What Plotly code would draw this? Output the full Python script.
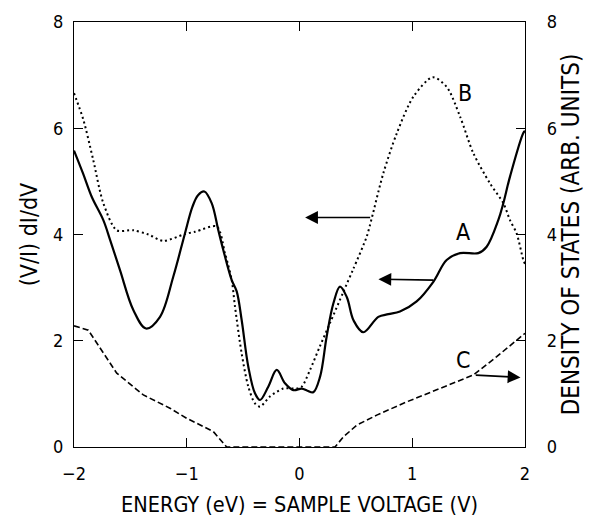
import plotly.graph_objects as go

# Curve A (solid): (V/I) dI/dV, measured
a_x = [-2.0, -1.92, -1.843, -1.74, -1.68, -1.592, -1.474, -1.361, -1.237, -1.119, -1.016, -0.95,
       -0.90, -0.844, -0.779, -0.72, -0.676, -0.601, -0.557, -0.513, -0.454, -0.395, -0.35, -0.277, -0.202,
       -0.129, -0.055, 0.02, 0.07, 0.122, 0.182, 0.241, 0.3, 0.359, 0.42, 0.48, 0.566, 0.699,
       0.788, 0.891, 1.039, 1.187, 1.305, 1.424, 1.586, 1.66, 1.763, 1.808, 1.867, 1.985, 2.0]
a_y = [5.58, 5.15, 4.71, 4.27, 3.90, 3.33, 2.58, 2.23, 2.45, 3.21, 4.02, 4.52,
       4.74, 4.81, 4.59, 4.08, 3.71, 3.14, 2.93, 2.39, 1.51, 1.01, 0.885, 1.135, 1.45,
       1.2, 1.07, 1.10, 1.06, 1.03, 1.32, 2.08, 2.70, 3.02, 2.82, 2.38, 2.16, 2.45,
       2.50, 2.55, 2.74, 3.11, 3.52, 3.65, 3.65, 3.77, 4.27, 4.59, 5.09, 5.91, 5.95]

# Curve B (dotted): (V/I) dI/dV, theory
b_x = [-2.0, -1.917, -1.829, -1.74, -1.621, -1.474, -1.34, -1.208, -1.016, -0.927, -0.734, -0.661,
       -0.601, -0.572, -0.513, -0.454, -0.395, -0.35, -0.262, -0.144, -0.025, 0.02, 0.093, 0.182,
       0.27, 0.389, 0.477, 0.596, 0.64, 0.743, 0.862, 1.009, 1.181, 1.305, 1.424, 1.542, 1.69,
       1.808, 1.867, 1.926, 1.985, 2.0]
b_y = [6.66, 6.16, 5.40, 4.59, 4.08, 4.08, 4.0, 3.88, 4.01, 4.05, 4.15, 3.65,
       3.14, 2.64, 1.76, 1.135, 0.82, 0.76, 0.95, 1.10, 1.10, 1.135, 1.45, 1.90,
       2.33, 2.92, 3.35, 3.96, 4.30, 5.15, 5.90, 6.59, 6.96, 6.78, 6.22, 5.53, 4.96,
       4.59, 4.27, 4.02, 3.52, 3.45]

# Curve C (dashed): density of states (right axis)
c_x = [-2.0, -1.873, -1.621, -1.385, -1.149, -1.0, -0.764, -0.646, 0.315, 0.389, 0.507, 0.685,
       0.951, 1.246, 1.542, 1.749, 1.985, 2.0]
c_y = [2.28, 2.20, 1.39, 0.98, 0.73, 0.54, 0.29, 0.0, 0.0, 0.19, 0.41, 0.60,
       0.85, 1.10, 1.355, 1.70, 2.11, 2.14]

x_ticks = [-2, -1, 0, 1, 2]
x_tick_text = ["\u22122", "\u22121", "0", "1", "2"]
y_ticks = [0, 2, 4, 6, 8]

FONT = "DejaVu Sans Condensed, Liberation Sans Narrow, Arial Narrow, sans-serif"

fig = go.Figure()
fig.add_trace(go.Scatter(x=a_x, y=a_y, mode="lines", line=dict(color="black", width=2.2, shape="spline", smoothing=1.0), showlegend=False))
fig.add_trace(go.Scatter(x=b_x, y=b_y, mode="lines", line=dict(color="black", width=2, dash="2px,3px", shape="spline", smoothing=0.8), showlegend=False))
fig.add_trace(go.Scatter(x=c_x, y=c_y, mode="lines", yaxis="y2", line=dict(color="black", width=1.6, dash="6px,3px"), showlegend=False))

annots = []
# Arrows
for (hx, hy, tx, ty) in [(0.05, 4.32, 0.64, 4.32), (0.70, 3.16, 1.20, 3.14), (1.96, 1.31, 1.55, 1.355)]:
    annots.append(dict(x=hx, y=hy, ax=tx, ay=ty, xref="x", yref="y", axref="x", ayref="y",
                       text="", showarrow=True, arrowhead=2, arrowsize=1.6, arrowwidth=1.6, arrowcolor="black"))
# Curve labels
for (lx, ly, t) in [(1.47, 6.66, "B"), (1.45, 4.05, "A"), (1.45, 1.64, "C")]:
    annots.append(dict(x=lx, y=ly, xref="x", yref="y", text=t, showarrow=False,
                       font=dict(family=FONT, size=23, color="black")))

axis_common = dict(showgrid=False, zeroline=False, showline=True, linecolor="black", linewidth=1.3,
                   ticks="inside", ticklen=9, tickcolor="black", tickwidth=1.2, automargin=False,
                   tickfont=dict(family=FONT, size=18, color="black"))

fig.update_layout(
    width=585, height=521,
    margin=dict(l=66, r=68, t=14, b=82),
    paper_bgcolor="white", plot_bgcolor="white",
    xaxis=dict(range=[-2, 2], tickvals=x_ticks, ticktext=x_tick_text, mirror="ticks", ticklabelstandoff=10,
               title=dict(text="ENERGY (eV) = SAMPLE VOLTAGE (V)", font=dict(family=FONT, size=21.5, color="black"), standoff=14),
               **axis_common),
    yaxis=dict(range=[0, 8], tickvals=y_ticks, mirror="ticks", ticklabelstandoff=6,
               title=dict(text="(V/I) dI/dV", font=dict(family=FONT, size=23, color="black"), standoff=8),
               **axis_common),
    yaxis2=dict(range=[0, 8], tickvals=y_ticks, overlaying="y", side="right", ticklabelstandoff=17,
                title=dict(text="DENSITY OF STATES (ARB. UNITS)", font=dict(family=FONT, size=24, color="black"), standoff=5),
                **axis_common),
    annotations=annots,
)

fig.write_html("out.html")
